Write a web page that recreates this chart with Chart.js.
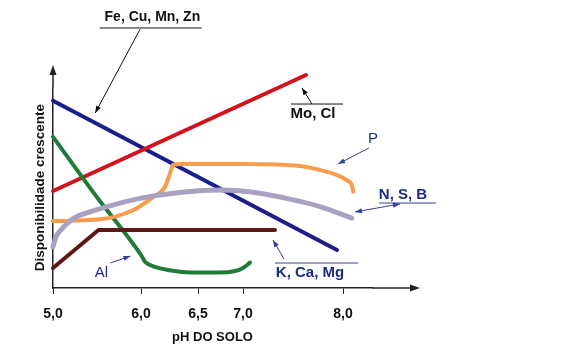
<!DOCTYPE html>
<html>
<head>
<meta charset="utf-8">
<script src="https://cdn.jsdelivr.net/npm/chart.js@4/dist/chart.umd.min.js"></script>
<style>
  html, body { margin: 0; padding: 0; background: #ffffff; }
  #wrap { width: 565px; height: 356px; position: relative; }
</style>
</head>
<body>
<div id="wrap"><canvas id="c" width="565" height="356"></canvas></div>
<script>
// ---------- DATA ----------
const phTicks    = [5.0, 6.0, 6.5, 7.0, 8.0];
const tickLabels = ['5,0', '6,0', '6,5', '7,0', '8,0'];
const seriesNames = ['Fe, Cu, Mn, Zn', 'Mo, Cl', 'Al', 'P', 'N, S, B', 'K, Ca, Mg'];

const feCuMnZnPH = [5.0, 7.94];
const feCuMnZn   = [84.0, 17.0];

const moClPH = [5.0, 7.63];
const moCl   = [43.5, 95.5];

const alPH = [5.0, 5.5, 6.0, 6.035, 6.079, 6.167, 6.342, 6.522, 6.744, 6.911, 7.0, 7.07];
const al   = [67.8, 40.7, 14.8, 11.8, 10.3, 8.8, 7.3, 6.9, 6.9, 7.6, 9.0, 11.4];

const pPH = [5.0, 5.539, 5.914, 6.108, 6.211, 6.254, 6.281, 6.386, 6.967, 7.57, 7.77, 7.937, 8.037, 8.087, 8.103];
const p   = [30.0, 30.8, 35.0, 40.9, 45.4, 51.4, 55.2, 55.6, 55.6, 54.7, 52.9, 50.7, 48.4, 46.2, 43.2];

const nsbPH = [5.0, 5.034, 5.09, 5.239, 5.427, 5.615, 5.989, 6.283, 6.744, 7.17, 7.503, 7.77, 8.087];
const nsb   = [18.5, 23.0, 26.0, 31.3, 34.2, 36.5, 40.2, 42.5, 43.9, 42.5, 39.5, 36.5, 31.3];

const kCaMgPH = [5.0, 5.517, 7.32];
const kCaMg   = [9.0, 26.0, 26.0];

// ---------- nonuniform pH axis (printed spacing between tick marks) ----------
const axisSpacing = [0, 88, 145, 190, 290];
function phToU(v) {
  let i = 0;
  while (i < phTicks.length - 2 && v > phTicks[i + 1]) i++;
  return axisSpacing[i] + (v - phTicks[i]) * (axisSpacing[i + 1] - axisSpacing[i]) / (phTicks[i + 1] - phTicks[i]);
}
function uToPh(u) {
  let i = 0;
  while (i < axisSpacing.length - 2 && u > axisSpacing[i + 1]) i++;
  return phTicks[i] + (u - axisSpacing[i]) * (phTicks[i + 1] - phTicks[i]) / (axisSpacing[i + 1] - axisSpacing[i]);
}
class PhScale extends Chart.LinearScale {
  getPixelForValue(v) {
    if (v === null || v === undefined || isNaN(v)) return NaN;
    const u0 = phToU(this.min), u1 = phToU(this.max);
    return this.getPixelForDecimal((phToU(v) - u0) / (u1 - u0));
  }
  getValueForPixel(px) {
    const u0 = phToU(this.min), u1 = phToU(this.max);
    return uToPh(u0 + this.getDecimalForPixel(px) * (u1 - u0));
  }
}
PhScale.id = 'phscale';
PhScale.defaults = Chart.LinearScale.defaults;
Chart.register(PhScale);

// ---------- annotations ----------
const INK = '#111111';
const NAVY = '#1f2a84';
const NAVY_LINE = '#34409a';
const notes = [
  { text: seriesNames[0], pos: [6.10, 121.5], font: 'bold 14px', color: INK, line: INK,
    rule: [5.53, 6.54, 116.6], arrow: [[5.99, 116.1], [5.48, 78.5]] },
  { text: seriesNames[1], pos: [7.70, 78.0], font: 'bold 15px', color: INK, line: INK,
    rule: [7.48, 8.00, 82.5], arrow: [[7.69, 82.5], [7.59, 89.7]] },
  { text: seriesNames[3], pos: [8.30, 66.8], font: '15px', color: NAVY, line: NAVY_LINE,
    arrow: [[8.26, 62.8], [7.95, 55.6]] },
  { text: seriesNames[4], pos: [8.60, 41.7], font: 'bold 15px', color: NAVY, line: NAVY_LINE,
    rule: [8.36, 8.93, 38.1], arrow: [[8.57, 37.7], [8.12, 34.1]], both: true },
  { text: seriesNames[5], pos: [7.67, 6.7], font: 'bold 15px', color: NAVY, line: NAVY_LINE,
    rule: [7.32, 8.15, 11.2], arrow: [[7.41, 13.0], [7.30, 21.5]] },
  { text: seriesNames[2], pos: [5.55, 6.7], font: '15px', color: NAVY, line: NAVY_LINE,
    arrow: [[5.65, 11.2], [5.88, 14.3]] }
];
const axisEnds = { x: 8.77, y: 100 };
const FONT = '"Liberation Sans", Arial, Helvetica, sans-serif';

function head(ctx, x0, y0, x1, y1, len, wid) {
  const a = Math.atan2(y1 - y0, x1 - x0);
  const bx = x1 - len * Math.cos(a), by = y1 - len * Math.sin(a);
  ctx.beginPath();
  ctx.moveTo(x1, y1);
  ctx.lineTo(bx + wid * Math.sin(a), by - wid * Math.cos(a));
  ctx.lineTo(bx - wid * Math.sin(a), by + wid * Math.cos(a));
  ctx.closePath();
  ctx.fill();
}

const notesPlugin = {
  id: 'notes',
  afterDatasetsDraw(chart) {
    const { ctx, chartArea: ca } = chart;
    const xs = chart.scales.x, ys = chart.scales.y;
    const px = v => xs.getPixelForValue(v), py = v => ys.getPixelForValue(v);
    ctx.save();
    // axis extensions with arrows
    ctx.strokeStyle = '#222'; ctx.fillStyle = '#222'; ctx.lineWidth = 1.5;
    const xe = px(axisEnds.x), ye = py(axisEnds.y);
    ctx.beginPath(); ctx.moveTo(ca.right, ca.bottom); ctx.lineTo(xe - 4, ca.bottom); ctx.stroke();
    head(ctx, ca.right, ca.bottom, xe, ca.bottom, 10, 3.5);
    ctx.beginPath(); ctx.moveTo(ca.left, ca.top); ctx.lineTo(ca.left, ye + 4); ctx.stroke();
    head(ctx, ca.left, ca.top, ca.left, ye, 10, 3.5);
    // labels
    notes.forEach(n => {
      ctx.strokeStyle = n.line; ctx.fillStyle = n.line; ctx.lineWidth = 1;
      if (n.rule) {
        ctx.beginPath(); ctx.moveTo(px(n.rule[0]), py(n.rule[2])); ctx.lineTo(px(n.rule[1]), py(n.rule[2])); ctx.stroke();
      }
      const a0 = [px(n.arrow[0][0]), py(n.arrow[0][1])], a1 = [px(n.arrow[1][0]), py(n.arrow[1][1])];
      ctx.beginPath(); ctx.moveTo(a0[0], a0[1]); ctx.lineTo(a1[0], a1[1]); ctx.stroke();
      head(ctx, a0[0], a0[1], a1[0], a1[1], 7, 2.6);
      if (n.both) head(ctx, a1[0], a1[1], a0[0], a0[1], 7, 2.6);
      ctx.fillStyle = n.color;
      ctx.font = n.font + ' ' + FONT;
      ctx.textAlign = 'center'; ctx.textBaseline = 'middle';
      ctx.fillText(n.text, px(n.pos[0]), py(n.pos[1]));
    });
    ctx.restore();
  }
};

function pts(xv, yv) { return xv.map((x, i) => ({ x: x, y: yv[i] })); }
function ds(label, xv, yv, color, width, smooth) {
  return {
    label: label, data: pts(xv, yv), borderColor: color, backgroundColor: color,
    borderWidth: width, pointRadius: 0, showLine: true, fill: false, clip: false,
    tension: smooth ? 0.4 : 0, cubicInterpolationMode: smooth ? 'monotone' : 'default',
    borderCapStyle: 'round', borderJoinStyle: 'round'
  };
}

Chart.defaults.font.family = FONT;

new Chart(document.getElementById('c'), {
  type: 'scatter',
  data: {
    datasets: [
      ds(seriesNames[4], nsbPH, nsb, '#aaa1c2', 5, true),
      ds(seriesNames[3], pPH, p, '#f99c4c', 4, true),
      ds(seriesNames[5], kCaMgPH, kCaMg, '#5b1818', 4, false),
      ds(seriesNames[2], alPH, al, '#207a38', 4, true),
      ds(seriesNames[1], moClPH, moCl, '#d2121c', 4, false),
      ds(seriesNames[0], feCuMnZnPH, feCuMnZn, '#1b1d8c', 4, false)
    ]
  },
  options: {
    responsive: false,
    animation: false,
    events: [],
    layout: { padding: { top: 87.3, right: 193, bottom: 0, left: 0 } },
    plugins: { legend: { display: false }, tooltip: { enabled: false } },
    scales: {
      x: {
        type: 'phscale', position: 'bottom', min: 5, max: 8.29,
        afterBuildTicks: s => { s.ticks = phTicks.map(v => ({ value: v })); },
        afterFit: s => { s.height = 68; },
        grid: { display: true, drawOnChartArea: false, drawTicks: true, tickLength: 6, color: '#222', lineWidth: 1 },
        border: { display: true, color: '#222', width: 1.5 },
        ticks: { color: '#111', font: { size: 14, weight: 'bold' }, padding: 12, autoSkip: false, maxRotation: 0,
                 callback: (v, i) => tickLabels[i] },
        title: { display: true, text: 'pH DO SOLO', color: '#111', font: { size: 13, weight: 'bold' }, padding: { top: 0, bottom: 11 } }
      },
      y: {
        type: 'linear', position: 'left', min: 0, max: 90,
        afterFit: s => { s.width = 53; },
        ticks: { display: false },
        grid: { display: false },
        border: { display: true, color: '#222', width: 1.5 },
        title: { display: true, text: 'Disponibilidade crescente', color: '#111', font: { size: 13.5, weight: 'bold' }, padding: { top: 32, bottom: 0 } }
      }
    }
  },
  plugins: [notesPlugin]
});
</script>
</body>
</html>
